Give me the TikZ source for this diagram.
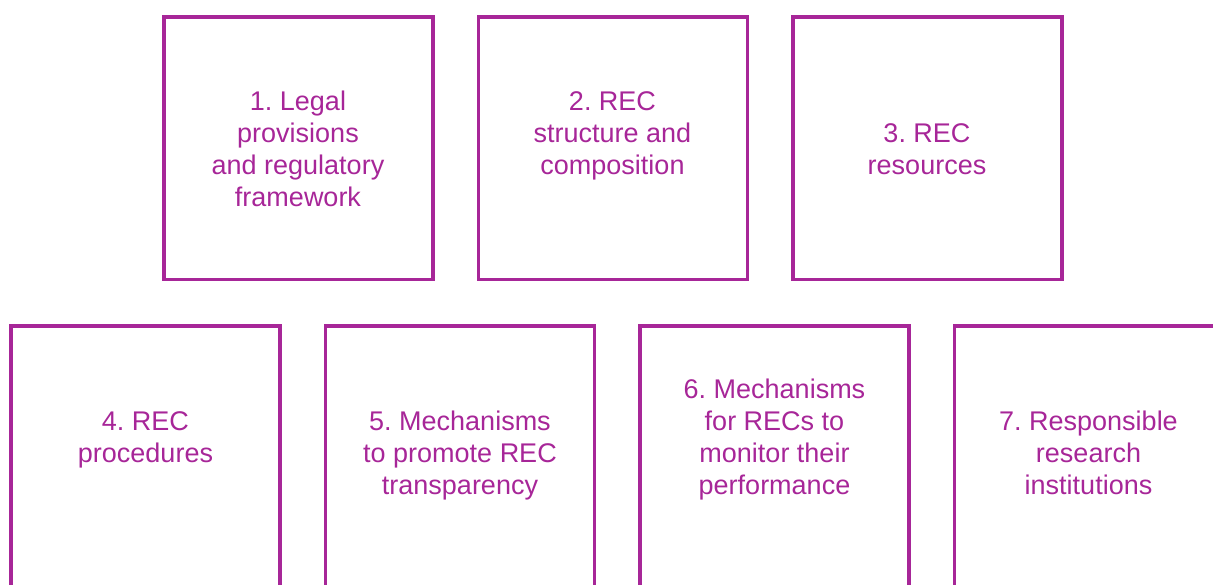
\documentclass[tikz,border=0pt]{standalone}
\usepackage{fontspec}
\setmainfont{Liberation Sans}
\definecolor{rec}{RGB}{167,38,152}
\begin{document}
\begin{tikzpicture}[x=1pt,y=-1pt,
  panel/.style={draw=rec,line width=3.6pt,minimum width=269pt,anchor=north west,inner sep=0pt,outer sep=0pt},
  toppanel/.style={panel,minimum height=262.5pt},
  botpanel/.style={panel,minimum height=300pt},
  label/.style={text=rec,font=\fontsize{27}{32}\selectfont\frenchspacing,align=center,inner sep=0pt}]
\useasboundingbox (0,0) rectangle (1213,584);
\clip (0,0) rectangle (1213,584);
\node[toppanel] (b1) at (164,17) {};
\node[toppanel] (b2) at (478.5,17) {};
\node[toppanel] (b3) at (793,17) {};
\node[botpanel] (b4) at (11,326) {};
\node[botpanel] (b5) at (325.5,326) {};
\node[botpanel] (b6) at (640,326) {};
\node[botpanel] (b7) at (954.5,326) {};
\node[label] (t1) at (298,149) {1. Legal\\provisions\\and regulatory\\framework};
\node[label] (t2) at (612.5,136) {2. REC\\structure and\\composition};
\node[label] (t3) at (927,149) {3. REC\\resources};
\node[label] (t4) at (145.5,440) {4. REC\\procedures};
\node[label] (t5) at (460,456) {5. Mechanisms\\to promote REC\\transparency};
\node[label] (t6) at (774.5,440) {6. Mechanisms\\for RECs to\\monitor their\\performance};
\node[label] (t7) at (1088.5,453) {7. Responsible\\research\\institutions};
\end{tikzpicture}
\end{document}
